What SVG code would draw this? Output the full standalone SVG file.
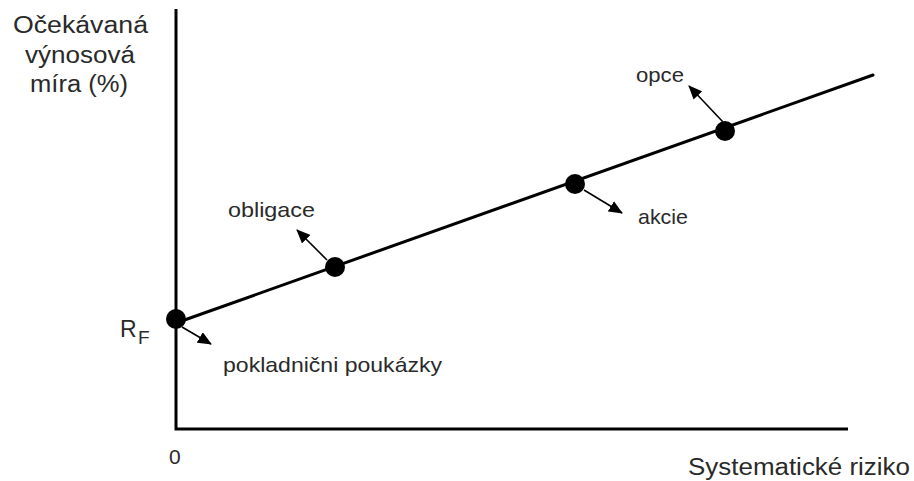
<svg xmlns="http://www.w3.org/2000/svg" width="914" height="481" viewBox="0 0 914 481">
  <style>
    .t { font-family: "Liberation Sans", Arial, Helvetica, sans-serif; fill: #2a2a2a; }
    .ax { stroke: #000; stroke-width: 3; fill: none; }
    .ml { stroke: #000; stroke-width: 3; fill: none; stroke-linecap: round; }
    .ar { stroke: #000; stroke-width: 1.6; fill: none; }
    .dot { fill: #000; }
  </style>
  <defs>
    <marker id="ah" markerUnits="userSpaceOnUse" markerWidth="14" markerHeight="12" viewBox="0 0 14 12" refX="13" refY="6" orient="auto">
      <path d="M0,0 L14,6 L0,12 z" fill="#000"/>
    </marker>
  </defs>
  <rect width="914" height="481" fill="#fff"/>

  <g id="axes">
    <path class="ax" d="M176,9 L176,429 L848,429"/>
  </g>

  <g id="sml">
    <line class="ml" x1="176" y1="323" x2="873" y2="75"/>
  </g>

  <g id="node-rf">
    <circle class="dot" cx="176" cy="319" r="10"/>
  </g>
  <g id="node-obligace">
    <circle class="dot" cx="335" cy="267" r="10"/>
  </g>
  <g id="node-akcie">
    <circle class="dot" cx="575" cy="184" r="10"/>
  </g>
  <g id="node-opce">
    <circle class="dot" cx="725" cy="131" r="10"/>
  </g>

  <g id="connectors">
    <line class="ar" x1="182" y1="327" x2="211" y2="344" marker-end="url(#ah)"/>
    <line class="ar" x1="327" y1="260" x2="297" y2="230" marker-end="url(#ah)"/>
    <line class="ar" x1="584" y1="190" x2="622" y2="213" marker-end="url(#ah)"/>
    <line class="ar" x1="723" y1="122" x2="689" y2="86" marker-end="url(#ah)"/>
  </g>

  <g id="label-y">
    <text class="t" x="13" y="33" font-size="23" textLength="135" lengthAdjust="spacingAndGlyphs">Očekávaná</text>
    <text class="t" x="25" y="63" font-size="23" textLength="110" lengthAdjust="spacingAndGlyphs">výnosová</text>
    <text class="t" x="30" y="92" font-size="23" textLength="98" lengthAdjust="spacingAndGlyphs">míra (%)</text>
  </g>
  <g id="label-rf">
    <text class="t" x="120" y="337" font-size="23">R</text>
    <text class="t" x="138" y="344" font-size="19">F</text>
  </g>
  <g id="label-pokladnicni">
    <text class="t" x="223" y="372" font-size="21" textLength="219" lengthAdjust="spacingAndGlyphs">pokladnični poukázky</text>
  </g>
  <g id="label-obligace">
    <text class="t" x="228" y="217" font-size="21" textLength="87" lengthAdjust="spacingAndGlyphs">obligace</text>
  </g>
  <g id="label-akcie">
    <text class="t" x="638" y="224" font-size="21" textLength="50" lengthAdjust="spacingAndGlyphs">akcie</text>
  </g>
  <g id="label-opce">
    <text class="t" x="636" y="82" font-size="21" textLength="48" lengthAdjust="spacingAndGlyphs">opce</text>
  </g>
  <g id="label-zero">
    <text class="t" x="169" y="464" font-size="21">0</text>
  </g>
  <g id="label-x">
    <text class="t" x="688" y="475" font-size="23" textLength="222" lengthAdjust="spacingAndGlyphs">Systematické riziko</text>
  </g>
</svg>
